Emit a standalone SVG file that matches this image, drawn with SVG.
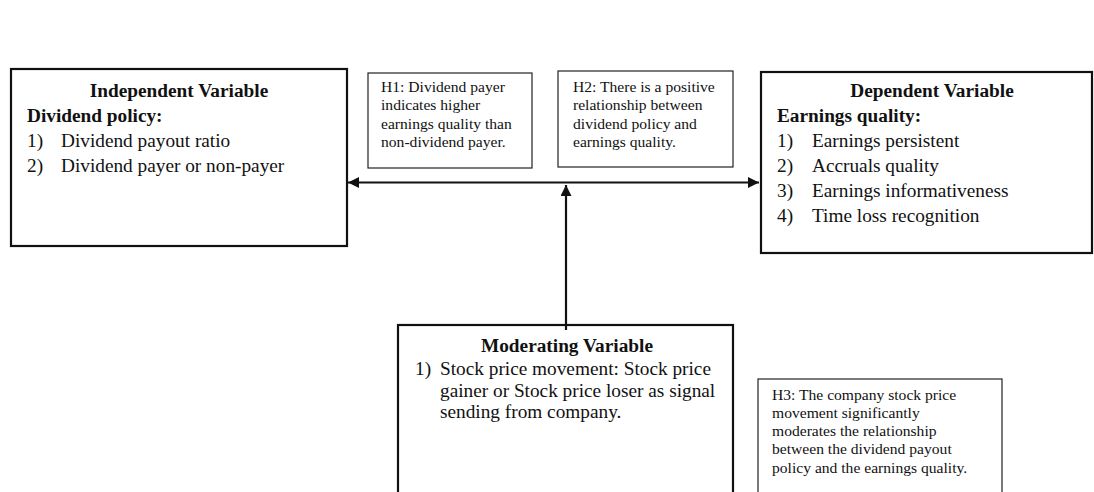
<svg xmlns="http://www.w3.org/2000/svg" width="1094" height="492" viewBox="0 0 1094 492">
<style>
.box{fill:#fff;stroke:#111;stroke-width:2.2}
.hbox{fill:#fff;stroke:#222;stroke-width:1.2}
text{font-family:"Liberation Serif","Times New Roman",serif;fill:#111}
.t{font-size:19.3px;font-weight:bold}
.b{font-size:19.3px}
.h{font-size:15.6px}
.c{stroke:#111;stroke-width:2.2;fill:none}
</style>
<defs>
<marker id="ah" viewBox="0 0 10 10" refX="10" refY="5" markerWidth="5" markerHeight="5" orient="auto-start-reverse" markerUnits="strokeWidth">
<path d="M0,0 L10,5 L0,10 z" fill="#111"/>
</marker>
</defs>
<rect width="1094" height="492" fill="#fff"/>
<g id="independent">
<rect class="box" x="11" y="69" width="336" height="177"/>
<text class="t" x="179" y="97" text-anchor="middle">Independent Variable</text>
<text class="t" x="27" y="122">Dividend policy:</text>
<text class="b" x="27" y="147">1)</text><text class="b" x="61" y="147">Dividend payout ratio</text>
<text class="b" x="27" y="172">2)</text><text class="b" x="61" y="172">Dividend payer or non-payer</text>
</g>
<g id="h1">
<rect class="hbox" x="368" y="73" width="164" height="95"/>
<text class="h" x="381" y="92">H1: Dividend payer</text>
<text class="h" x="381" y="110">indicates higher</text>
<text class="h" x="381" y="129">earnings quality than</text>
<text class="h" x="381" y="147">non-dividend payer.</text>
</g>
<g id="h2">
<rect class="hbox" x="558" y="71" width="175" height="96"/>
<text class="h" x="573" y="92">H2: There is a positive</text>
<text class="h" x="573" y="110">relationship between</text>
<text class="h" x="573" y="129">dividend policy and</text>
<text class="h" x="573" y="147">earnings quality.</text>
</g>
<g id="dependent">
<rect class="box" x="761" y="72" width="331" height="181"/>
<text class="t" x="932" y="97" text-anchor="middle">Dependent Variable</text>
<text class="t" x="777" y="122">Earnings quality:</text>
<text class="b" x="777" y="147">1)</text><text class="b" x="812" y="147">Earnings persistent</text>
<text class="b" x="777" y="172">2)</text><text class="b" x="812" y="172">Accruals quality</text>
<text class="b" x="777" y="197">3)</text><text class="b" x="812" y="197">Earnings informativeness</text>
<text class="b" x="777" y="222">4)</text><text class="b" x="812" y="222">Time loss recognition</text>
</g>
<g id="moderating">
<rect class="box" x="398" y="325" width="335" height="180"/>
<text class="t" x="567" y="352" text-anchor="middle">Moderating Variable</text>
<text class="b" x="415" y="375">1)</text>
<text class="b" x="440" y="375">Stock price movement: Stock price</text>
<text class="b" x="440" y="397">gainer or Stock price loser as signal</text>
<text class="b" x="440" y="418">sending from company.</text>
</g>
<g id="h3">
<rect class="hbox" x="758" y="379" width="244" height="130"/>
<text class="h" x="772" y="400">H3: The company stock price</text>
<text class="h" x="772" y="418">movement significantly</text>
<text class="h" x="772" y="436">moderates the relationship</text>
<text class="h" x="772" y="454">between the dividend payout</text>
<text class="h" x="772" y="473">policy and the earnings quality.</text>
</g>
<g id="connectors">
<line class="c" x1="348" y1="182.5" x2="759" y2="182.5" marker-start="url(#ah)" marker-end="url(#ah)"/>
<line class="c" x1="566" y1="330" x2="566" y2="185" marker-end="url(#ah)"/>
</g>
</svg>
